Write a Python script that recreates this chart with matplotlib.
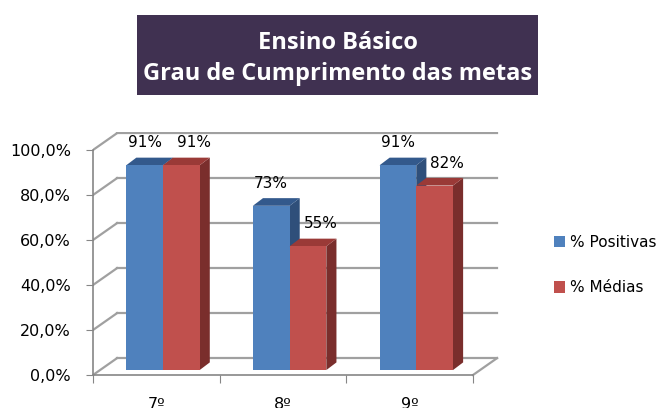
import matplotlib.pyplot as plt
from matplotlib.patches import Polygon, Rectangle, Patch

categorias = ['7º', '8º', '9º']
positivas = [91, 73, 91]
medias = [91, 55, 82]
series = ['% Positivas', '% Médias']
yticks = [0, 20, 40, 60, 80, 100]
ylabels = ['0,0%', '20,0%', '40,0%', '60,0%', '80,0%', '100,0%']

plt.rcParams['font.family'] = ['DejaVu Sans']

# cores (face, lado, topo)
azul = ('#4F81BD', '#2F4F7A', '#33598C')
verm = ('#C0504D', '#7A2E2C', '#9A3A37')

fig = plt.figure(figsize=(6.66, 4.08), dpi=100)
ax = fig.add_axes([93 / 666, 19.5 / 408, 418 / 666, 256.5 / 408])
ax.set_xlim(-0.5, 2.8)
ax.set_ylim(-6, 108)

# profundidade da parede e das barras
dxw, dyw = 0.19, 7.5
offx, offy = 0.052, 2.2
dxb, dyb = 0.08, 3.4
w = 0.29
grid_c = '#A0A0A0'

# parede de fundo + lateral
for t in yticks:
    ax.plot([-0.5 + dxw, 2.5 + dxw], [t + dyw, t + dyw], color=grid_c, lw=1.6, zorder=1)
    ax.plot([-0.5, -0.5 + dxw], [t, t + dyw], color=grid_c, lw=1.6, zorder=1)
ax.plot([2.5, 2.5 + dxw], [0, dyw], color=grid_c, lw=1.6, zorder=1)


def barra(x0, v, cores):
    b = offy
    topo = v + offy
    ax.add_patch(Polygon([(x0 + w, b), (x0 + w, topo), (x0 + w + dxb, topo + dyb), (x0 + w + dxb, b + dyb)],
                         closed=True, fc=cores[1], ec='none', zorder=3))
    ax.add_patch(Polygon([(x0, topo), (x0 + w, topo), (x0 + w + dxb, topo + dyb), (x0 + dxb, topo + dyb)],
                         closed=True, fc=cores[2], ec='none', zorder=3))
    ax.add_patch(Rectangle((x0, b), w, v, fc=cores[0], ec='none', zorder=3))


for i in range(len(categorias)):
    xa = i + offx - w
    xv = i + offx
    barra(xa, positivas[i], azul)
    barra(xv, medias[i], verm)
    ax.text(xa + w / 2, positivas[i] + offy + 10, f'{positivas[i]}%', ha='center', va='center',
            fontsize=11, color='black', zorder=5)
    ax.text(xv + w / 2 + 0.1, medias[i] + offy + 10, f'{medias[i]}%', ha='center', va='center',
            fontsize=11, color='black', zorder=5)

# eixos
for s in ['top', 'right']:
    ax.spines[s].set_visible(False)
ax.spines['left'].set_bounds(0, 100)
ax.spines['bottom'].set_position(('data', 0))
ax.spines['bottom'].set_bounds(-0.5, 2.5)
for s in ['left', 'bottom']:
    ax.spines[s].set_color('#868686')
    ax.spines[s].set_linewidth(1.2)
ax.set_yticks(yticks)
ax.set_yticklabels(ylabels, fontsize=11.5)
ax.set_xticks([-0.5, 0.5, 1.5, 2.5])
ax.set_xticklabels([])
ax.set_xticks([0, 1, 2], minor=True)
ax.set_xticklabels(categorias, minor=True, fontsize=11.5)
ax.tick_params(axis='y', length=5, color='#868686', pad=11)
ax.tick_params(axis='x', which='major', length=6, color='#868686')
ax.tick_params(axis='x', which='minor', length=0, pad=16)

# legenda
hs = [Patch(fc=azul[0]), Patch(fc=verm[0])]
fig.legend(hs, series, loc='center left', bbox_to_anchor=(540 / 666, 1 - 265 / 408), frameon=False,
           handlelength=0.75, handleheight=0.75, handletextpad=0.3, labelspacing=2.0, fontsize=11)

# titulo
fig.patches.append(Rectangle((137 / 666, 1 - 95 / 408), 401 / 666, 80 / 408, transform=fig.transFigure,
                             fc='#403151', ec='none'))
fig.text(337.5 / 666, 1 - 43 / 408, 'Ensino Básico', ha='center', va='center', color='white',
         fontsize=17, fontweight='bold', family='Open Sans')
fig.text(337.5 / 666, 1 - 74 / 408, 'Grau de Cumprimento das metas', ha='center', va='center', color='white',
         fontsize=17, fontweight='bold', family='Open Sans')

fig.savefig('out.png', dpi=100)
